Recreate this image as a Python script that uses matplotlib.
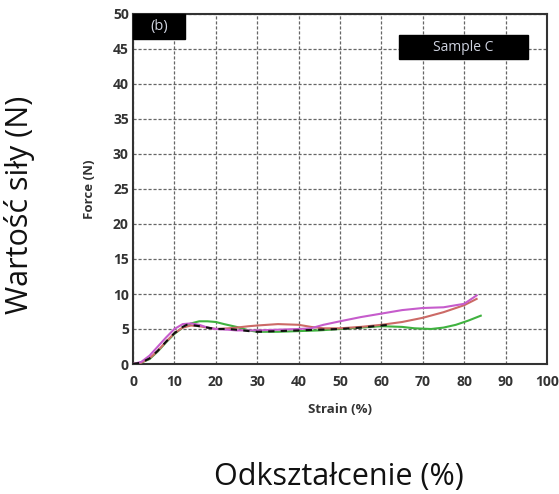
import matplotlib
matplotlib.use("Agg")
import matplotlib.pyplot as plt
from matplotlib.patches import Rectangle

# ---- data ----
x_ticks = [0, 10, 20, 30, 40, 50, 60, 70, 80, 90, 100]
y_ticks = [0, 5, 10, 15, 20, 25, 30, 35, 40, 45, 50]

black_x = [0, 2, 4, 6, 8, 10, 12, 13, 15, 18, 20, 23, 25, 28, 30, 35, 40, 45, 50, 55, 60, 62]
black_y = [0, 0.2, 0.8, 1.9, 3.2, 4.4, 5.3, 5.6, 5.5, 5.2, 5.0, 5.0, 4.9, 4.7, 4.6, 4.7, 4.8, 4.9, 5.0, 5.2, 5.5, 5.6]

red_x = [0, 2, 4, 6, 8, 10, 12, 14, 16, 18, 20, 23, 25, 28, 30, 35, 40, 43, 46, 50, 55, 60, 65, 70, 75, 80, 83]
red_y = [0, 0.2, 0.8, 1.9, 3.2, 4.4, 5.2, 5.5, 5.4, 5.2, 5.0, 5.1, 5.2, 5.4, 5.5, 5.7, 5.6, 5.3, 5.1, 5.1, 5.3, 5.6, 6.0, 6.6, 7.4, 8.4, 9.3]

magenta_x = [0, 2, 4, 6, 8, 10, 12, 14, 16, 18, 20, 23, 25, 28, 30, 35, 40, 43, 46, 50, 55, 60, 65, 70, 75, 80, 83]
magenta_y = [0, 0.3, 1.2, 2.5, 3.8, 5.0, 5.7, 5.8, 5.6, 5.2, 5.0, 4.9, 4.8, 4.8, 4.8, 4.9, 5.0, 5.1, 5.6, 6.1, 6.7, 7.2, 7.7, 8.0, 8.1, 8.6, 9.8]

green_x = [0, 2, 4, 6, 8, 10, 12, 14, 16, 18, 20, 22, 25, 28, 30, 35, 40, 45, 50, 55, 60, 65, 68, 72, 75, 78, 81, 84]
green_y = [0, 0.2, 0.7, 1.8, 3.1, 4.3, 5.2, 5.8, 6.1, 6.1, 6.0, 5.7, 5.3, 4.8, 4.6, 4.6, 4.7, 4.8, 5.0, 5.2, 5.4, 5.3, 5.1, 5.0, 5.2, 5.6, 6.2, 6.9]

panel_label = "(b)"
sample_label = "Sample C"
inner_xlabel = "Strain (%)"
inner_ylabel = "Force (N)"
outer_xlabel = "Odkształcenie (%)"
outer_ylabel = "Wartość siły (N)"

# ---- figure ----
W, H = 559, 494
fig = plt.figure(figsize=(W / 100, H / 100), dpi=100)
fig.patch.set_facecolor("white")

left, right, top, bottom = 133, 547, 14, 364
ax = fig.add_axes([left / W, 1 - bottom / H, (right - left) / W, (bottom - top) / H])

ax.plot(green_x, green_y, color="#3fb23f", lw=1.5, zorder=3)
ax.plot(red_x, red_y, color="#cc6a66", lw=1.5, zorder=4)
ax.plot(magenta_x, magenta_y, color="#c65ccc", lw=1.5, zorder=5)
ax.plot(black_x, black_y, color="#111111", lw=1.5, ls=(0, (3, 3)), zorder=6)

ax.set_xlim(0, 100)
ax.set_ylim(0, 50)
ax.set_xticks(x_ticks)
ax.set_yticks(y_ticks)
tick_font = dict(family="Open Sans", weight="bold", size=10)
ax.set_xticklabels([str(v) for v in x_ticks], color="#333333", **tick_font)
ax.set_yticklabels([str(v) for v in y_ticks], color="#333333", **tick_font)
ax.tick_params(axis="both", length=0)
ax.tick_params(axis="x", pad=8)
ax.tick_params(axis="y", pad=3)

ax.grid(True, color="#666666", lw=0.9, ls=(0, (2.5, 1.5)))
ax.set_axisbelow(True)
for s in ax.spines.values():
    s.set_color("#333333")
    s.set_linewidth(1.5)

ax.set_xlabel(inner_xlabel, family="Open Sans", weight="bold", size=9.5,
              color="#333333", labelpad=10)
ax.set_ylabel(inner_ylabel, family="Open Sans", weight="bold", size=9.5,
              color="#333333", labelpad=12)

# annotation boxes
ax.add_patch(Rectangle((0.0, 0.929), 0.126, 0.071, transform=ax.transAxes,
                       fc="black", ec="black", zorder=10, clip_on=False))
ax.text(0.063, 0.964, panel_label, transform=ax.transAxes, ha="center", va="center",
        color="#cfd3e0", family="Open Sans", size=10.5, zorder=11)
ax.add_patch(Rectangle((0.643, 0.871), 0.311, 0.069, transform=ax.transAxes,
                       fc="black", ec="black", zorder=10))
ax.text(0.798, 0.905, sample_label, transform=ax.transAxes, ha="center", va="center",
        color="#cfd3e0", family="Open Sans", size=10, zorder=11)

# outer labels
fig.text(339 / W, 1 - 477 / H, outer_xlabel, ha="center", va="center",
         family="Open Sans", size=22, color="#111111")
fig.text(20 / W, 1 - 205 / H, outer_ylabel, ha="center", va="center",
         rotation=90, family="Open Sans", size=22, color="#111111")

fig.savefig("out.png", dpi=100)
